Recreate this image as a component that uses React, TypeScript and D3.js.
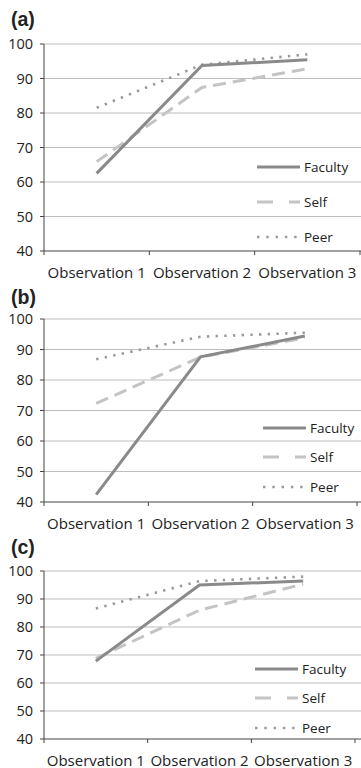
import React from 'react';
import * as d3 from 'd3';

const categories = ['Observation 1', 'Observation 2', 'Observation 3'];
const yTicks = [40, 50, 60, 70, 80, 90, 100];
const seriesNames = ['Faculty', 'Self', 'Peer'];

const facultyA = [62.5, 93.8, 95.4];
const selfA = [65.9, 87.4, 92.8];
const peerA = [81.5, 94.0, 97.0];

const facultyB = [42.4, 87.6, 94.4];
const selfB = [72.3, 87.5, 93.8];
const peerB = [86.8, 94.2, 95.5];

const facultyC = [67.8, 95.0, 96.4];
const selfC = [68.8, 86.0, 95.3];
const peerC = [86.6, 96.4, 98.0];

const styles: Record<string, { color: string; dash: string; legendDash: string; width: number }> = {
  Faculty: { color: '#8a8a8a', dash: 'none', legendDash: 'none', width: 3 },
  Self: { color: '#c4c4c4', dash: '13,7', legendDash: '16,16', width: 3 },
  Peer: { color: '#9a9a9a', dash: '2.4,6.3', legendDash: '2.4,6.9', width: 2.6 },
};

const FONT = '"Open Sans", "DejaVu Sans", sans-serif';

type PanelProps = {
  label: string;
  labelY: number;
  series: number[][];
  top: number;
  bottom: number;
  right: number;
  legendX: number;
  legendY: number[];
};

function Panel({ label, labelY, series, top, bottom, right, legendX, legendY }: PanelProps) {
  const left = 44;
  const x = d3.scaleBand<string>().domain(categories).range([left, right]);
  const y = d3.scaleLinear().domain([40, 100]).range([bottom, top]);
  const line = d3
    .line<number>()
    .x((_, i) => (x(categories[i]) ?? 0) + x.bandwidth() / 2)
    .y((d) => y(d));

  return (
    <g>
      <text x={11} y={labelY} fontFamily="Arial, 'Liberation Sans', sans-serif" fontWeight="bold" fontSize={19.5} fill="#222">
        {label}
      </text>
      {yTicks.map((t) => (
        <g key={t}>
          {t !== 40 && <line x1={left} x2={361} y1={y(t)} y2={y(t)} stroke="#bdbdbd" strokeWidth={1} />}
          <line x1={left - 4} x2={left} y1={y(t)} y2={y(t)} stroke="#444" strokeWidth={1} />
          <text x={33} y={y(t)} dy="0.36em" textAnchor="end" fontFamily={FONT} fontSize={14.5} fill="#222">
            {t}
          </text>
        </g>
      ))}
      <line x1={left} x2={left} y1={top} y2={bottom} stroke="#444" strokeWidth={1} />
      <line x1={left} x2={361} y1={bottom} y2={bottom} stroke="#444" strokeWidth={1} />
      <line x1={left} x2={left} y1={bottom} y2={bottom + 4} stroke="#444" strokeWidth={1} />
      {categories.map((c) => (
        <g key={c}>
          <line x1={(x(c) ?? 0) + x.bandwidth()} x2={(x(c) ?? 0) + x.bandwidth()} y1={bottom} y2={bottom + 4} stroke="#444" strokeWidth={1} />
          <text
            x={(x(c) ?? 0) + x.bandwidth() / 2}
            y={bottom + 26.5}
            textAnchor="middle"
            fontFamily={FONT}
            fontSize={15}
            fill="#222"
          >
            {c}
          </text>
        </g>
      ))}
      {seriesNames
        .map((name, i) => {
          const s = styles[name];
          return (
            <path
              key={name}
              d={line(series[i]) ?? ''}
              fill="none"
              stroke={s.color}
              strokeWidth={s.width}
              strokeDasharray={s.dash}
            />
          );
        })
        .reverse()}
      {seriesNames.map((name, i) => {
        const s = styles[name];
        return (
          <g key={name}>
            <line
              x1={legendX}
              x2={legendX + 43}
              y1={legendY[i]}
              y2={legendY[i]}
              stroke={s.color}
              strokeWidth={s.width}
              strokeDasharray={s.legendDash}
            />
            <text x={legendX + 47} y={legendY[i]} dy="0.36em" fontFamily={FONT} fontSize={13.5} fill="#222">
              {name}
            </text>
          </g>
        );
      })}
    </g>
  );
}

export default function App() {
  return (
    <div>
      <style>{'body{margin:0}'}</style>
      <svg width={361} height={768} style={{ display: 'block', background: '#fff' }}>
        <Panel label="(a)" labelY={26} series={[facultyA, selfA, peerA]} top={44} bottom={251} right={360} legendX={257} legendY={[167, 202, 237]} />
        <Panel label="(b)" labelY={303.5} series={[facultyB, selfB, peerB]} top={319} bottom={502} right={357} legendX={263} legendY={[428, 457, 487]} />
        <Panel label="(c)" labelY={554} series={[facultyC, selfC, peerC]} top={571} bottom={739} right={355} legendX={255} legendY={[669, 698, 728]} />
      </svg>
    </div>
  );
}
